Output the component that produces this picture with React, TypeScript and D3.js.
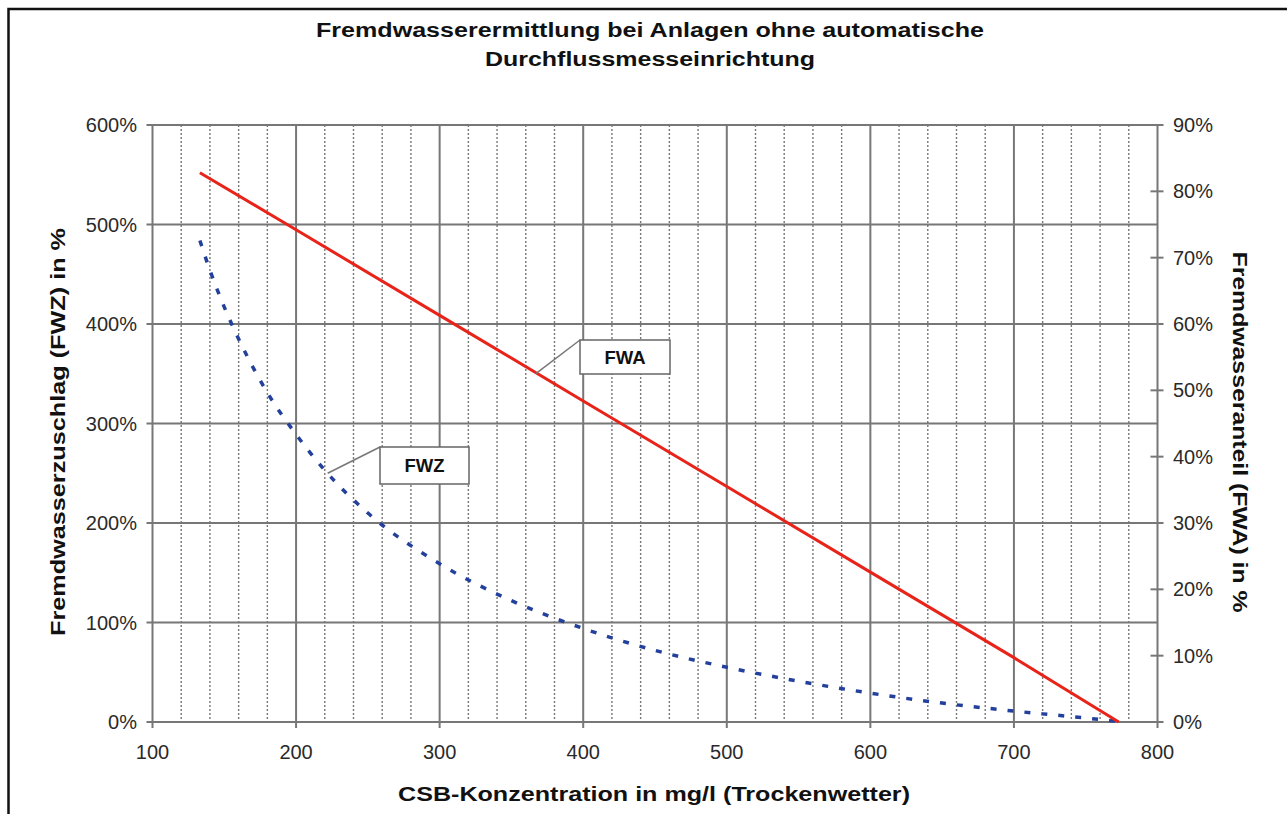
import React from 'react';
import * as d3 from 'd3';

// CSB concentration (mg/l)
const fwaCsb = [133, 200, 300, 400, 500, 600, 700, 773];
const fwaValues = [82.8, 74.2, 61.3, 48.4, 35.5, 22.6, 9.7, 0]; // right axis, %

const fwzCsb = [133, 140, 150, 160, 180, 200, 220, 250, 300, 350, 400, 450, 500, 550, 600, 650, 700, 750, 773];
const fwzValues = [484, 454, 417, 385, 331, 289, 253, 210, 159, 122, 94, 72, 55, 41, 29, 19, 11, 4, 0.5]; // left axis, %

const xTicks = [100, 200, 300, 400, 500, 600, 700, 800];
const xMinor = d3.range(120, 800, 20).filter(v => v % 100 !== 0);
const leftTicks = [0, 100, 200, 300, 400, 500, 600];
const rightTicks = [0, 10, 20, 30, 40, 50, 60, 70, 80, 90];

const titleLines = ['Fremdwasserermittlung bei Anlagen ohne automatische', 'Durchflussmesseinrichtung'];
const xTitle = 'CSB-Konzentration in mg/l (Trockenwetter)';
const leftTitle = 'Fremdwasserzuschlag (FWZ) in %';
const rightTitle = 'Fremdwasseranteil (FWA) in %';

const W = 1287;
const H = 814;
const font = '"Liberation Sans", Arial, sans-serif';

const App: React.FC = () => {
  const x = d3.scaleLinear().domain([100, 800]).range([152.5, 1157.5]);
  const yL = d3.scaleLinear().domain([0, 600]).range([722, 125]);
  const yR = d3.scaleLinear().domain([0, 90]).range([722, 125]);

  const fwaLine = d3.line<number>()
    .x((d, i) => x(fwaCsb[i]))
    .y(d => yR(d));

  const fwzLine = d3.line<number>()
    .x((d, i) => x(fwzCsb[i]))
    .y(d => yL(d))
    .curve(d3.curveMonotoneX);

  // label anchors on the curves
  const fwaAt = 367;
  const fwaAnchor = [x(fwaAt), yR(d3.scaleLinear().domain([133, 773]).range([82.8, 0])(fwaAt))];
  const fwzAt = 222;
  const fwzAnchor = [x(fwzAt), yL(250)];

  const grid = '#777';

  return (
    <svg width={W} height={H} style={{ position: 'absolute', left: 0, top: 0, background: '#fff' }}
      fontFamily={font}>
      <rect x={0} y={0} width={W} height={H} fill="#fff" />
      <rect x={8.5} y={9} width={W + 20} height={H + 20} fill="none" stroke="#111" strokeWidth={2.5} />

      {titleLines.map((t, i) => (
        <text key={t} x={650} y={37 + i * 29} textAnchor="middle" fontSize={20} fontWeight="bold" fill="#111"
          textLength={i === 0 ? 668 : 330} lengthAdjust="spacingAndGlyphs">{t}</text>
      ))}

      {/* minor grid */}
      {xMinor.map(v => (
        <line key={'m' + v} x1={x(v)} x2={x(v)} y1={yL(600)} y2={yL(0)} stroke="#777"
          strokeWidth={1.4} strokeDasharray="2 2" />
      ))}
      {/* major vertical */}
      {xTicks.map(v => (
        <line key={'v' + v} x1={x(v)} x2={x(v)} y1={yL(600)} y2={yL(0) + 6} stroke={grid} strokeWidth={2} />
      ))}
      {/* horizontal */}
      {leftTicks.map(v => (
        <line key={'h' + v} x1={x(100) - 6} x2={x(800)} y1={yL(v)} y2={yL(v)} stroke={grid} strokeWidth={2} />
      ))}
      {/* right axis ticks */}
      {rightTicks.map(v => (
        <line key={'r' + v} x1={x(800) - 7} x2={x(800) + 6} y1={yR(v)} y2={yR(v)} stroke={grid} strokeWidth={2} />
      ))}

      {/* tick labels */}
      {leftTicks.map(v => (
        <text key={'lt' + v} x={137} y={yL(v) + 7} textAnchor="end" fontSize={20} fill="#2a2a2a">{v}%</text>
      ))}
      {rightTicks.map(v => (
        <text key={'rt' + v} x={1173} y={yR(v) + 7} textAnchor="start" fontSize={20} fill="#2a2a2a">{v}%</text>
      ))}
      {xTicks.map(v => (
        <text key={'xt' + v} x={x(v)} y={759} textAnchor="middle" fontSize={20} fill="#2a2a2a">{v}</text>
      ))}

      {/* axis titles */}
      <text x={654} y={801} textAnchor="middle" fontSize={21} fontWeight="bold" fill="#111"
        textLength={512} lengthAdjust="spacingAndGlyphs">{xTitle}</text>
      <text transform="translate(65,432) rotate(-90)" textAnchor="middle" fontSize={21} fontWeight="bold" fill="#111"
        textLength={408} lengthAdjust="spacingAndGlyphs">{leftTitle}</text>
      <text transform="translate(1233,432) rotate(90)" textAnchor="middle" fontSize={21} fontWeight="bold" fill="#111"
        textLength={361} lengthAdjust="spacingAndGlyphs">{rightTitle}</text>

      {/* series */}
      <path d={fwzLine(fwzValues) || ''} fill="none" stroke="#23409c" strokeWidth={3.5} strokeDasharray="6 11" />
      <path d={fwaLine(fwaValues) || ''} fill="none" stroke="#e8231a" strokeWidth={3} />

      {/* FWA label */}
      <line x1={fwaAnchor[0]} y1={fwaAnchor[1]} x2={580} y2={340} stroke="#777" strokeWidth={1.5} />
      <rect x={580} y={340} width={90} height={34} fill="#fff" stroke="#666" strokeWidth={1.5} />
      <text x={625} y={364} textAnchor="middle" fontSize={18.5} fontWeight="bold" fill="#111">FWA</text>

      {/* FWZ label */}
      <line x1={fwzAnchor[0]} y1={fwzAnchor[1]} x2={380} y2={447} stroke="#777" strokeWidth={1.5} />
      <rect x={380} y={447} width={89} height={37} fill="#fff" stroke="#666" strokeWidth={1.5} />
      <text x={424.5} y={472} textAnchor="middle" fontSize={18.5} fontWeight="bold" fill="#111">FWZ</text>
    </svg>
  );
};

export default App;
